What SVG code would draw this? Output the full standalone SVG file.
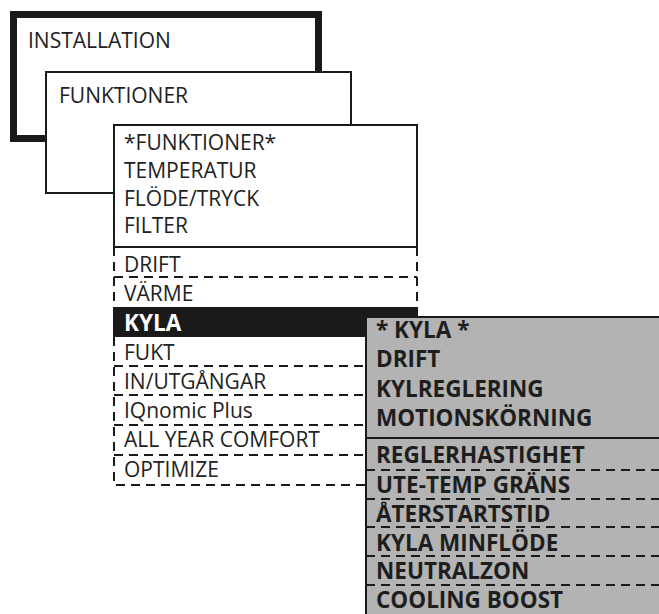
<svg xmlns="http://www.w3.org/2000/svg" width="659" height="614" viewBox="0 0 659 614">
<style>
.t{font-family:"Open Sans","Liberation Sans",sans-serif;font-size:21px;fill:#222}
.b{font-family:"Open Sans","Liberation Sans",sans-serif;font-size:22.5px;font-weight:bold;fill:#1e1e1e}
.solid{fill:#fff;stroke:#1a1a1a;stroke-width:2}
.dash{fill:none;stroke:#1a1a1a;stroke-width:2;stroke-dasharray:9 6}
</style>
<g id="installation">
<rect x="13.5" y="14.5" width="305" height="124" fill="#fff" stroke="#1a1a1a" stroke-width="7"/>
<text class="t" x="28" y="48">INSTALLATION</text>
</g>
<g id="funktioner">
<rect class="solid" x="46" y="72" width="305" height="121"/>
<text class="t" x="59" y="103">FUNKTIONER</text>
</g>
<g id="funktioner-menu">
<rect class="solid" x="114" y="125" width="303" height="122"/>
<text class="t" x="124" y="150">*FUNKTIONER*</text>
<text class="t" x="124" y="178">TEMPERATUR</text>
<text class="t" x="124" y="206">FLÖDE/TRYCK</text>
<text class="t" x="124" y="233">FILTER</text>
</g>
<g id="funktioner-list">
<path class="dash" d="M114 247V308M417 247V308M114 277H417M114 337V485H366M114 366H366M114 395H366M114 425H366M114 455H366"/>
<text class="t" x="124" y="272">DRIFT</text>
<text class="t" x="124" y="301">VÄRME</text>
<rect x="113" y="307" width="305" height="30" fill="#1a1a1a"/>
<text class="b" x="124" y="331" style="fill:#fff">KYLA</text>
<text class="t" x="124" y="360">FUKT</text>
<text class="t" x="124" y="389">IN/UTGÅNGAR</text>
<text class="t" x="124" y="418">IQnomic Plus</text>
<text class="t" x="124" y="447">ALL YEAR COMFORT</text>
<text class="t" x="124" y="477">OPTIMIZE</text>
</g>
<g id="kyla-menu">
<rect x="366" y="317" width="300" height="305" fill="#b3b3b3"/>
<path d="M366 614V317H659M366 438H659" fill="none" stroke="#1a1a1a" stroke-width="2"/>
<path class="dash" d="M366 438V614M366 470H659M366 499H659M366 527H659M366 556H659M366 585H659"/>
<text class="b" x="376" y="338">* KYLA *</text>
<text class="b" x="376" y="367">DRIFT</text>
<text class="b" x="376" y="397">KYLREGLERING</text>
<text class="b" x="376" y="426">MOTIONSKÖRNING</text>
<text class="b" x="376" y="463">REGLERHASTIGHET</text>
<text class="b" x="376" y="493">UTE-TEMP GRÄNS</text>
<text class="b" x="376" y="522">ÅTERSTARTSTID</text>
<text class="b" x="376" y="551">KYLA MINFLÖDE</text>
<text class="b" x="376" y="579">NEUTRALZON</text>
<text class="b" x="376" y="608">COOLING BOOST</text>
</g>
</svg>
